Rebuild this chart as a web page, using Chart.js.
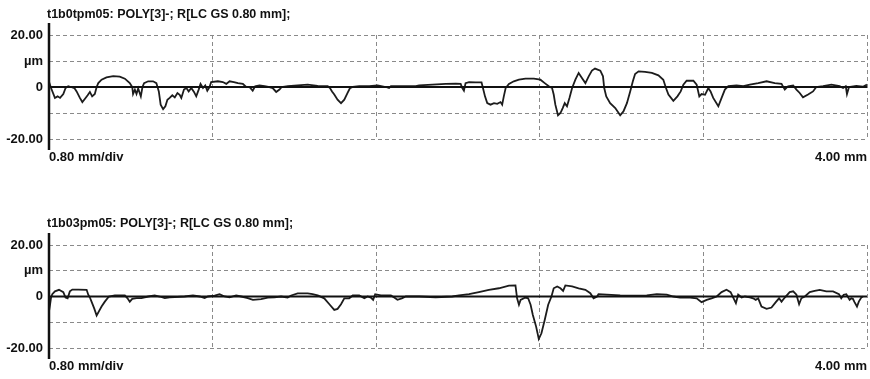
<!DOCTYPE html>
<html>
<head>
<meta charset="utf-8">
<script src="https://cdn.jsdelivr.net/npm/chart.js@4/dist/chart.umd.min.js"></script>
<style>
    body { margin: 0; background: #fff; width: 870px; height: 379px; overflow: hidden; position: relative; }
    canvas { position: absolute; left: 0; }
    .title {
        position: absolute;
        left: 47px;
        font-family: "Liberation Sans", Arial, sans-serif;
        font-weight: bold;
        font-size: 12.5px;
        line-height: 14px;
        color: #111;
        white-space: nowrap;
    }
</style>
</head>
<body>
<canvas id="topProfile" width="870" height="170" style="top:0"></canvas>
<canvas id="bottomProfile" width="870" height="169" style="top:210px"></canvas>
<div class="title" style="top:7px">t1b0tpm05: POLY[3]-; R[LC GS 0.80 mm];</div>
<div class="title" style="top:216px">t1b03pm05: POLY[3]-; R[LC GS 0.80 mm];</div>

<script>
// Profile positions (mm) and heights (µm)
const topPositions = [0.000, 0.010, 0.029, 0.042, 0.054, 0.070, 0.081, 0.094, 0.107, 0.124, 0.135, 0.151, 0.163, 0.176, 0.189, 0.200, 0.211, 0.224, 0.233, 0.241,
    0.257, 0.281, 0.314, 0.346, 0.371, 0.395, 0.407, 0.411, 0.420, 0.428, 0.436, 0.449, 0.457, 0.465, 0.485, 0.509, 0.525, 0.537, 0.546, 0.558,
    0.569, 0.579, 0.590, 0.603, 0.615, 0.628, 0.639, 0.647, 0.660, 0.672, 0.683, 0.696, 0.709, 0.720, 0.732, 0.741, 0.753, 0.764, 0.774, 0.785,
    0.793, 0.826, 0.850, 0.867, 0.883, 0.904, 0.924, 0.948, 0.964, 0.980, 0.996, 1.008, 1.029, 1.054, 1.073, 1.094, 1.111, 1.127, 1.138, 1.168,
    1.216, 1.265, 1.314, 1.340, 1.363, 1.374, 1.384, 1.395, 1.411, 1.428, 1.444, 1.460, 1.472, 1.485, 1.517, 1.566, 1.607, 1.647, 1.663, 1.672,
    1.729, 1.794, 1.810, 1.875, 1.940, 1.989, 2.013, 2.021, 2.029, 2.037, 2.054, 2.086, 2.115, 2.122, 2.132, 2.143, 2.159, 2.176, 2.192, 2.208,
    2.216, 2.224, 2.233, 2.249, 2.273, 2.298, 2.330, 2.371, 2.403, 2.424, 2.444, 2.460, 2.468, 2.476, 2.489, 2.501, 2.512, 2.522, 2.533, 2.545,
    2.558, 2.574, 2.590, 2.606, 2.623, 2.639, 2.655, 2.670, 2.696, 2.709, 2.715, 2.725, 2.744, 2.769, 2.793, 2.809, 2.826, 2.842, 2.855, 2.866,
    2.883, 2.915, 2.948, 2.980, 3.004, 3.017, 3.029, 3.053, 3.073, 3.089, 3.102, 3.118, 3.151, 3.167, 3.180, 3.191, 3.208, 3.224, 3.235, 3.248,
    3.273, 3.289, 3.305, 3.322, 3.362, 3.395, 3.427, 3.468, 3.509, 3.549, 3.582, 3.598, 3.614, 3.639, 3.655, 3.671, 3.687, 3.712, 3.736, 3.752,
    3.785, 3.826, 3.866, 3.883, 3.896, 3.902, 3.912, 3.948, 3.980, 4.000];
const topHeights = [2.0, -0.4, -4.2, -3.6, -4.2, -2.7, -0.4, 0.3, 0.0, -0.4, -1.7, -4.2, -5.8, -4.5, -3.2, -1.9, -3.6, -2.7, 0.0, 1.5,
    2.8, 3.7, 4.2, 4.0, 3.2, 1.5, 0.0, -2.7, -1.0, -2.7, -0.6, -3.6, 0.0, 1.5, 2.2, 2.2, 1.5, -1.7, -6.8, -8.5,
    -7.4, -4.9, -4.2, -3.2, -4.0, -2.3, -3.0, -4.2, -1.0, -0.4, -1.7, -0.4, -1.9, -3.6, -1.0, 1.2, -0.4, 0.6, -1.4, 0.0,
    1.9, 2.2, 1.9, 1.2, 2.2, 1.9, 1.5, 1.2, 0.0, 0.0, -1.4, 0.3, 0.6, 0.3, 0.0, -0.4, -1.9, -1.0, 0.0, 0.3,
    0.6, 0.9, 0.4, 0.3, 0.3, -0.4, -1.7, -2.9, -4.9, -6.2, -4.9, -2.3, -0.4, 0.0, 0.3, 0.3, 0.6, 0.0, -0.4, 0.3,
    0.3, 0.3, 0.6, 0.9, 1.2, 1.3, 1.2, -0.4, -1.4, 1.5, 1.9, 1.8, 1.8, -0.4, -3.6, -6.2, -6.8, -6.2, -6.5, -5.8,
    -6.8, -3.6, -0.4, 1.2, 2.2, 2.8, 3.2, 3.2, 2.8, 1.5, 0.3, -0.4, -2.9, -6.8, -10.9, -10.0, -8.1, -6.2, -7.4, -4.2,
    -0.4, 2.8, 5.4, 3.5, 1.5, 4.1, 6.3, 7.1, 6.3, 4.1, -0.4, -3.6, -6.2, -8.1, -10.9, -9.4, -6.2, -1.7, 2.2, 5.0,
    6.0, 5.8, 5.4, 4.5, 2.8, -0.4, -2.9, -5.3, -3.6, -1.7, 0.9, 2.4, 2.4, 0.9, -3.6, -2.7, -3.0, -0.4, -1.7, -4.2,
    -7.4, -4.2, -1.0, 0.3, 0.6, 0.3, 0.9, 1.5, 2.2, 1.5, 1.2, -1.0, 0.3, 0.6, -1.0, -2.3, -4.0, -2.9, -1.7, 0.0,
    0.3, 0.9, 0.3, -0.4, 0.3, -2.7, 0.0, 0.4, 0.1, 0.9];

const bottomPositions = [0.000, 0.005, 0.010, 0.016, 0.029, 0.049, 0.070, 0.081, 0.091, 0.102, 0.114, 0.143, 0.184, 0.192, 0.200, 0.208, 0.221, 0.233, 0.244, 0.257,
    0.273, 0.293, 0.322, 0.371, 0.384, 0.395, 0.407, 0.428, 0.452, 0.485, 0.517, 0.541, 0.566, 0.590, 0.663, 0.704, 0.737, 0.761, 0.777, 0.810,
    0.834, 0.859, 0.883, 0.915, 0.940, 0.972, 0.997, 1.037, 1.070, 1.102, 1.135, 1.167, 1.184, 1.216, 1.265, 1.289, 1.314, 1.346, 1.371, 1.395,
    1.411, 1.428, 1.444, 1.468, 1.485, 1.517, 1.542, 1.558, 1.574, 1.585, 1.595, 1.623, 1.672, 1.688, 1.704, 1.725, 1.745, 1.810, 1.891, 1.972,
    2.005, 2.054, 2.102, 2.151, 2.200, 2.249, 2.281, 2.289, 2.298, 2.306, 2.330, 2.343, 2.355, 2.366, 2.382, 2.395, 2.408, 2.424, 2.441, 2.457,
    2.468, 2.485, 2.501, 2.514, 2.525, 2.558, 2.590, 2.623, 2.647, 2.663, 2.680, 2.687, 2.728, 2.793, 2.858, 2.923, 2.972, 3.021, 3.053, 3.086,
    3.135, 3.167, 3.191, 3.216, 3.240, 3.265, 3.289, 3.313, 3.333, 3.346, 3.359, 3.370, 3.387, 3.403, 3.427, 3.443, 3.456, 3.468, 3.484, 3.509,
    3.533, 3.554, 3.570, 3.582, 3.598, 3.622, 3.639, 3.655, 3.668, 3.679, 3.696, 3.720, 3.744, 3.769, 3.801, 3.834, 3.863, 3.874, 3.886, 3.899,
    3.915, 3.923, 3.931, 3.939, 3.951, 3.960, 3.972, 3.980];
const bottomHeights = [-5.8, -3.2, -0.4, 0.9, 2.0, 2.6, 1.7, -0.4, -0.7, 2.0, 2.7, 2.7, 2.6, 0.7, -0.4, -2.0, -4.6, -7.4, -5.8, -3.9,
    -2.0, 0.0, 0.4, 0.4, -0.7, -2.0, -0.9, -0.6, -0.6, 0.0, 0.4, 0.0, -0.6, -0.3, 0.0, 0.4, 0.0, -0.6, 0.0, 0.3,
    0.9, 0.0, -0.3, 0.4, 0.0, -0.6, -1.3, -1.0, -0.4, -0.3, 0.0, -0.4, 0.4, 1.2, 1.2, 0.9, 0.4, -0.7, -3.0, -5.2,
    -4.8, -3.0, -0.7, -0.7, 0.4, 0.4, -0.7, 0.0, -0.4, -1.3, 0.9, 0.4, 0.4, -0.4, -1.3, -0.7, 0.0, 0.0, -0.3, 0.0,
    0.4, 0.9, 1.7, 2.6, 3.2, 4.2, 4.3, -0.7, -3.2, -1.3, -0.4, -0.7, -3.2, -7.2, -11.7, -16.5, -14.3, -9.1, -3.2, 0.0,
    3.2, 3.9, 3.2, 2.2, 4.3, 3.9, 3.2, 2.6, 1.3, -0.7, 0.0, 0.9, 0.7, 0.4, 0.3, 0.4, 0.9, 0.7, 0.0, -0.4,
    -0.4, -0.7, -2.2, -1.3, -0.7, 0.0, 1.7, 2.6, 1.7, -0.4, -2.6, 0.7, -0.4, 0.0, -0.3, -0.7, -1.3, -0.7, -3.9, -4.8,
    -4.3, -2.2, -0.7, -2.0, -0.4, 1.7, 2.0, 0.7, -3.0, -0.7, 0.0, 1.7, 2.2, 2.6, 2.0, 2.0, 0.9, -0.7, 0.7, 0.9,
    -1.3, -0.7, -0.9, -2.2, -3.9, -2.0, -0.4, 0.0];

// Axis divisions and their labels
const divisionTicks = [0, 0.8, 1.6, 2.4, 3.2, 4.0];
const heightTicks = [-20, -10, 0, 10, 20];
const heightLabels = ['-20.00', '', '0', 'µm', '20.00'];
const lengthLabels = ['0.80 mm/div', '4.00 mm'];

const labelFont = { family: "'Liberation Sans', Arial, sans-serif", size: 13, weight: 'bold' };

// Solid zero line and the left axis stroke, which overhangs the grid
const profileFrame = {
    id: 'profileFrame',
    afterDatasetsDraw(chart) {
        const { ctx, chartArea, scales } = chart;
        const zeroY = scales.y.getPixelForValue(0);
        ctx.save();
        ctx.strokeStyle = '#111';
        ctx.lineWidth = 2;
        ctx.beginPath();
        ctx.moveTo(chartArea.left, zeroY);
        ctx.lineTo(chartArea.right, zeroY);
        ctx.stroke();
        ctx.lineWidth = 2.5;
        ctx.beginPath();
        ctx.moveTo(chartArea.left, chartArea.top - 12);
        ctx.lineTo(chartArea.left, chartArea.bottom + 11);
        ctx.stroke();
        ctx.restore();
    }
};

function createProfileChart(canvasId, positions, heights) {
    const ctx = document.getElementById(canvasId).getContext('2d');
    return new Chart(ctx, {
        type: 'line',
        data: {
            datasets: [{
                data: positions.map((x, i) => ({ x: x, y: heights[i] })),
                borderColor: '#1c1c1c',
                borderWidth: 1.8,
                pointRadius: 0,
                tension: 0,
                fill: false
            }]
        },
        options: {
            responsive: false,
            animation: false,
            layout: { padding: { top: 35, right: 3, bottom: 0, left: 0 } },
            scales: {
                x: {
                    type: 'linear',
                    min: divisionTicks[0],
                    max: divisionTicks[divisionTicks.length - 1],
                    afterBuildTicks: (scale) => { scale.ticks = divisionTicks.map(v => ({ value: v })); },
                    afterFit: (scale) => {
                        scale.height = 31;
                        scale.paddingLeft = 0;
                        scale.paddingRight = 0;
                    },
                    grid: {
                        color: (c) => (c.tick && c.tick.value === 0) ? 'rgba(0,0,0,0)' : '#8a8a8a',
                        lineWidth: 1,
                        drawTicks: false
                    },
                    border: { display: false, dash: [4, 3] },
                    ticks: {
                        align: 'inner',
                        autoSkip: false,
                        maxRotation: 0,
                        padding: 11,
                        color: '#111',
                        font: labelFont,
                        callback: (value, index, ticks) => {
                            if (index === 0) return lengthLabels[0];
                            if (index === ticks.length - 1) return lengthLabels[1];
                            return '';
                        }
                    }
                },
                y: {
                    min: heightTicks[0],
                    max: heightTicks[heightTicks.length - 1],
                    afterBuildTicks: (scale) => { scale.ticks = heightTicks.map(v => ({ value: v })); },
                    afterFit: (scale) => { scale.width = 49; },
                    grid: {
                        color: (c) => (c.tick && c.tick.value === 0) ? 'rgba(0,0,0,0)' : '#8a8a8a',
                        lineWidth: 1,
                        drawTicks: false
                    },
                    border: { display: false, dash: [4, 3] },
                    ticks: {
                        padding: 6,
                        color: '#111',
                        font: labelFont,
                        callback: (value, index) => heightLabels[index]
                    }
                }
            },
            plugins: {
                legend: { display: false },
                tooltip: { enabled: false }
            }
        },
        plugins: [profileFrame]
    });
}

createProfileChart('topProfile', topPositions, topHeights);
createProfileChart('bottomProfile', bottomPositions, bottomHeights);
</script>
</body>
</html>
